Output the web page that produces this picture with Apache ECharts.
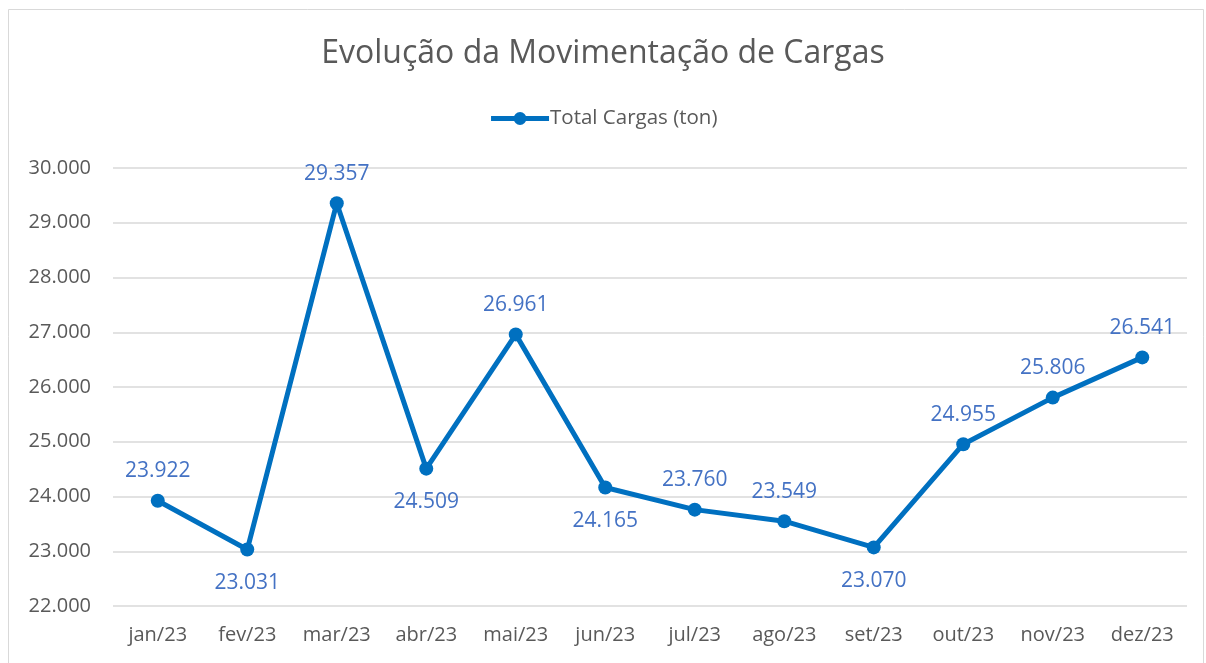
<!DOCTYPE html>
<html>
<head>
<meta charset="utf-8">
<script src="https://cdn.jsdelivr.net/npm/echarts@6/dist/echarts.min.js"></script>
<style>
  html, body { margin: 0; padding: 0; background: #fff; }
  #chart { width: 1206px; height: 663px; }
</style>
</head>
<body>
<div id="chart"></div>
<script>
// chart data
const months = ['jan/23', 'fev/23', 'mar/23', 'abr/23', 'mai/23', 'jun/23',
  'jul/23', 'ago/23', 'set/23', 'out/23', 'nov/23', 'dez/23']
const totalCargas = [23922, 23031, 29357, 24509, 26961, 24165,
  23760, 23549, 23070, 24955, 25806, 26541]
const seriesName = 'Total Cargas (ton)'
const chartTitle = 'Evolução da Movimentação de Cargas'

// labels that Excel put under the point
const belowIdx = [1, 3, 5, 8]

const fmt = (v) => String(Math.round(v)).replace(/\B(?=(\d{3})+(?!\d))/g, '.')

const font = 'Open Sans'
const chart = echarts.init(document.getElementById('chart'))

chart.setOption({
  animation: false,
  backgroundColor: '#fff',
  textStyle: { fontFamily: font },
  graphic: [{
    type: 'rect',
    shape: { x: 8.5, y: 9.5, width: 1195, height: 670 },
    style: { fill: 'none', stroke: '#d9d9d9', lineWidth: 1 },
    silent: true
  }],
  title: {
    text: chartTitle,
    left: 'center',
    top: 33,
    textStyle: { fontFamily: font, fontSize: 32, fontWeight: 'normal', color: '#595959' }
  },
  legend: {
    top: 103,
    left: 'center',
    itemWidth: 58,
    itemHeight: 16,
    itemGap: 4,
    lineStyle: { width: 5 },
    textStyle: { fontFamily: font, fontSize: 20.5, color: '#595959', padding: [0, 0, 0, -4] },
    data: [seriesName]
  },
  grid: { left: 113, right: 19, top: 168, bottom: 57 },
  xAxis: {
    type: 'category',
    data: months,
    boundaryGap: true,
    axisLine: { show: false },
    axisTick: { show: false },
    axisLabel: { fontFamily: font, fontSize: 20, color: '#595959', margin: 19 }
  },
  yAxis: {
    type: 'value',
    min: 22000,
    max: 30000,
    interval: 1000,
    axisLine: { show: false },
    axisTick: { show: false },
    splitLine: { lineStyle: { color: '#d9d9d9', width: 1.5 } },
    axisLabel: { fontFamily: font, fontSize: 20, color: '#595959', margin: 22, formatter: fmt }
  },
  series: [{
    name: seriesName,
    type: 'line',
    data: totalCargas.map((v, i) => ({
      value: v,
      label: belowIdx.includes(i)
        ? { position: 'bottom', distance: 16 }
        : { position: 'top', distance: 12 }
    })),
    symbol: 'circle',
    symbolSize: 14,
    lineStyle: { color: '#0070C0', width: 5 },
    itemStyle: { color: '#0070C0' },
    label: {
      show: true,
      fontFamily: font,
      fontSize: 21,
      color: '#4472C4',
      formatter: (p) => fmt(p.value)
    }
  }]
})

window.addEventListener('resize', () => chart.resize())
</script>
</body>
</html>
